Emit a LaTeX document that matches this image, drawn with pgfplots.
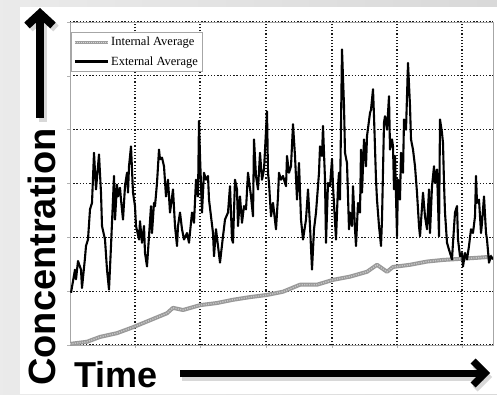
\documentclass[border=0pt]{standalone}
\usepackage{pgfplots}
\pgfplotsset{compat=1.18}
\usepackage{pgfplotstable}
\usepackage{fontspec}
\setmainfont{Liberation Serif}
\newfontfamily\arialb{Liberation Sans}
\usetikzlibrary{arrows.meta}

\pgfplotstableread{
x y
0 0.02
17 0.06
30 0.15
47 0.22
63 0.33
80 0.46
97 0.59
103 0.69
113 0.65
130 0.74
147 0.78
163 0.84
180 0.89
197 0.93
213 0.99
230 1.12
247 1.12
263 1.21
280 1.27
297 1.36
307 1.49
317 1.36
323 1.45
340 1.49
357 1.55
373 1.58
390 1.60
407 1.62
422 1.64
}\intdata

\pgfplotstableread{
x y
1 0.97
5 1.40
6 1.22
8 1.56
11 1.40
12 1.06
15 1.62
16 1.84
18 1.96
20 2.52
22 2.64
24 3.57
26 2.89
29 3.54
31 2.83
32 2.21
35 1.96
37 1.40
39 1.03
41 1.84
44 3.14
45 2.33
47 2.98
48 2.76
50 2.92
51 2.70
53 2.33
55 2.95
57 3.20
58 2.83
59 3.32
61 3.69
63 2.83
65 2.58
66 2.21
69 1.96
70 2.30
72 1.90
74 2.21
75 1.71
77 1.46
79 2.02
81 2.58
82 2.08
84 2.64
85 2.58
87 3.01
89 3.63
90 3.45
92 3.48
94 3.32
96 2.76
98 3.07
100 2.46
103 2.89
105 2.21
107 1.84
108 2.21
110 2.46
112 2.15
114 1.96
117 2.08
119 1.90
122 2.46
124 2.27
126 3.07
128 2.76
129 4.16
130 3.51
132 2.46
134 3.20
136 3.07
138 3.14
139 2.70
141 2.39
143 2.08
144 1.65
146 2.15
148 1.84
150 1.53
153 2.02
155 2.33
158 2.46
160 2.95
162 1.96
163 1.90
165 3.07
167 2.89
168 2.21
170 2.76
172 2.27
174 2.58
176 2.52
178 3.20
181 2.76
183 2.39
184 3.82
186 3.14
188 2.89
190 3.57
192 3.07
194 3.26
197 4.34
198 3.20
199 3.01
201 2.39
203 2.64
206 2.15
208 2.76
209 3.20
211 3.07
213 3.14
215 3.01
216 2.95
217 3.51
219 3.20
221 3.32
223 4.10
225 3.51
227 2.70
229 3.38
231 2.33
233 1.96
236 2.33
238 2.89
240 2.21
242 1.40
244 2.15
246 2.46
249 3.20
250 3.69
252 3.51
253 4.07
255 3.07
256 1.90
258 3.01
260 2.95
262 3.45
263 2.95
266 1.96
268 2.95
269 3.20
270 2.70
272 5.49
274 4.44
275 3.57
277 3.38
279 2.15
280 2.46
282 2.21
283 2.95
285 2.15
286 1.84
288 2.64
290 2.46
291 3.63
292 2.83
294 3.82
296 3.32
297 3.88
300 4.31
301 4.37
303 4.75
304 4.25
306 3.07
307 2.70
309 2.21
311 1.84
312 2.33
314 4.13
315 4.25
317 4.00
319 4.62
320 3.63
322 3.82
323 3.69
324 2.89
325 3.51
327 2.02
328 3.07
330 2.70
331 3.57
333 3.20
334 4.19
336 4.00
338 5.24
340 4.44
341 3.82
343 3.63
345 3.32
347 2.83
349 2.21
350 2.02
353 2.83
355 2.39
357 2.15
359 2.89
360 2.08
362 2.95
364 3.32
365 3.01
367 3.26
369 2.02
370 4.19
372 3.94
373 3.75
374 3.01
375 2.46
377 1.90
379 1.77
382 1.59
383 1.90
385 2.46
387 2.58
388 1.96
390 1.65
392 1.71
393 1.46
395 1.71
397 1.59
399 1.84
401 2.15
403 2.08
405 2.39
406 3.14
407 2.64
409 2.70
411 2.08
412 2.27
414 2.76
416 2.08
417 1.96
419 1.53
421 1.65
423 1.59
}\extdata

\begin{document}
\begin{tikzpicture}
\clip (0,0) rectangle (497pt,394pt);
\fill[left color=gray!16, right color=gray!30] (0,0) rectangle (497pt,394pt);
\fill[white] (20pt,0) rectangle (497pt,387pt);

\begin{axis}[
  at={(70pt,49pt)}, anchor=south west,
  scale only axis, width=423pt, height=323pt,
  xmin=0, xmax=423, ymin=0, ymax=6,
  xtick={65,130,196,262,327,392}, ytick={0,1,2,3,4,5,6},
  xticklabels={}, yticklabels={},
  grid=major,
  major grid style={black!90, line width=1.1pt, dash pattern=on 1.3pt off 1.9pt},
  axis line style={gray!70, line width=0.6pt},
  tick style={gray!60, line width=0.5pt},
  major tick length=3pt, tick align=outside,
  xtick pos=bottom, ytick pos=left,
  legend style={at={(rel axis cs:0.003,0.969)}, anchor=north west,
    draw=gray!70, line width=0.5pt, fill=white,
    font=\fontsize{12.5}{14}\selectfont,
    inner xsep=2pt, inner ysep=3pt, row sep=5pt,
    cells={anchor=west}},
  legend image code/.code={\draw[#1] (0pt,0pt) -- (33pt,0pt);},
]
\addplot[gray!80, line width=4pt, line join=round,
  legend image code/.code={
    \draw[gray!75, line width=2.6pt] (0pt,0pt) -- (33pt,0pt);
    \draw[gray!30, line width=1pt, dash pattern=on 1pt off 1pt] (0pt,0pt) -- (33pt,0pt);}]
  table[x=x, y=y] {\intdata};
\addplot[gray!45, line width=1.4pt, dash pattern=on 1.2pt off 1.2pt, forget plot]
  table[x=x, y=y] {\intdata};
\addplot[black, line width=2.1pt, line join=round] table[x=x, y=y] {\extdata};
\legend{Internal Average, External Average}
\end{axis}

% shadows
\draw[gray!60, opacity=0.5, line width=8pt, -{Straight Barb[length=12pt, width=26pt]}]
  (43pt,272pt) -- (43pt,383pt);
\draw[gray!60, opacity=0.5, line width=7pt, -{Straight Barb[length=12pt, width=24pt]}]
  (182pt,17pt) -- (492pt,17pt);
% arrows
\draw[black, line width=8pt, -{Straight Barb[length=12pt, width=26pt]}]
  (40pt,276pt) -- (40pt,386pt);
\draw[black, line width=7pt, -{Straight Barb[length=12pt, width=24pt]}]
  (180pt,21pt) -- (490pt,21pt);

\node[rotate=90, anchor=base west, inner sep=0pt,
  font=\arialb\bfseries\fontsize{38}{38}\selectfont] at (55pt,8pt) {Concentration};
\node[anchor=base west, inner sep=0pt,
  font=\arialb\bfseries\fontsize{36}{36}\selectfont] at (74pt,7pt) {Time};
\end{tikzpicture}
\end{document}
